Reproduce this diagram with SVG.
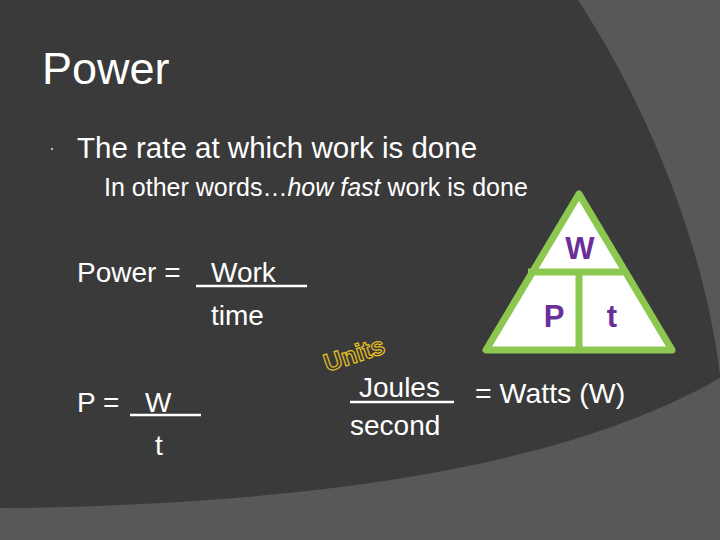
<svg xmlns="http://www.w3.org/2000/svg" width="720" height="540" viewBox="0 0 720 540">
<style>
.t{font-family:"Liberation Sans",Arial,sans-serif;fill:#fff}
.l{fill:#6b2f9a;font-family:"Liberation Sans",Arial,sans-serif;font-weight:bold;font-size:31px;text-anchor:middle}
.u{stroke:#fff;stroke-width:2.5}
</style>
<rect width="720" height="540" fill="#585858"/>
<path d="M0 0 H578 C650 110 705 250 720 375 L720 378 C560 470 300 505 0 508 Z" fill="#3a3a3a"/>
<text class="t" x="42" y="84" font-size="45">Power</text>
<circle cx="52" cy="149" r="1.2" fill="#bbb"/>
<text class="t" x="77" y="158" font-size="29.5">The rate at which work is done</text>
<text class="t" x="104" y="196" font-size="25">In other words…<tspan font-style="italic">how fast</tspan> work is done</text>
<g id="triangle">
<path d="M579 194 L486 350 L672 350 Z" fill="#fff" stroke="#8cc850" stroke-width="7" stroke-linejoin="round"/>
<line x1="528" y1="272" x2="626" y2="272" stroke="#8cc850" stroke-width="7"/>
<line x1="579" y1="272" x2="579" y2="350" stroke="#8cc850" stroke-width="7"/>
<text class="l" x="580" y="259">W</text>
<text class="l" x="554" y="327">P</text>
<text class="l" x="612" y="327">t</text>
</g>
<text class="t" x="77" y="282" font-size="28">Power =</text>
<text class="t" x="211" y="282" font-size="28">Work</text>
<line class="u" x1="196" y1="286" x2="307" y2="286"/>
<text class="t" x="211" y="325" font-size="28">time</text>
<text class="t" x="77" y="412" font-size="28">P =</text>
<text class="t" x="145" y="412" font-size="28">W</text>
<line class="u" x1="130" y1="415" x2="201" y2="415"/>
<text class="t" x="155" y="455" font-size="28">t</text>
<text x="327" y="372" font-size="25" font-family="Liberation Sans,Arial,sans-serif" font-weight="bold" fill="none" stroke="#e8c020" stroke-width="1.2" transform="rotate(-18 327 372)">Units</text>
<text class="t" x="359" y="397" font-size="28">Joules</text>
<line class="u" x1="350" y1="402" x2="454" y2="402"/>
<text class="t" x="475" y="403" font-size="28.5">= Watts (W)</text>
<text class="t" x="350" y="435" font-size="28">second</text>
</svg>
